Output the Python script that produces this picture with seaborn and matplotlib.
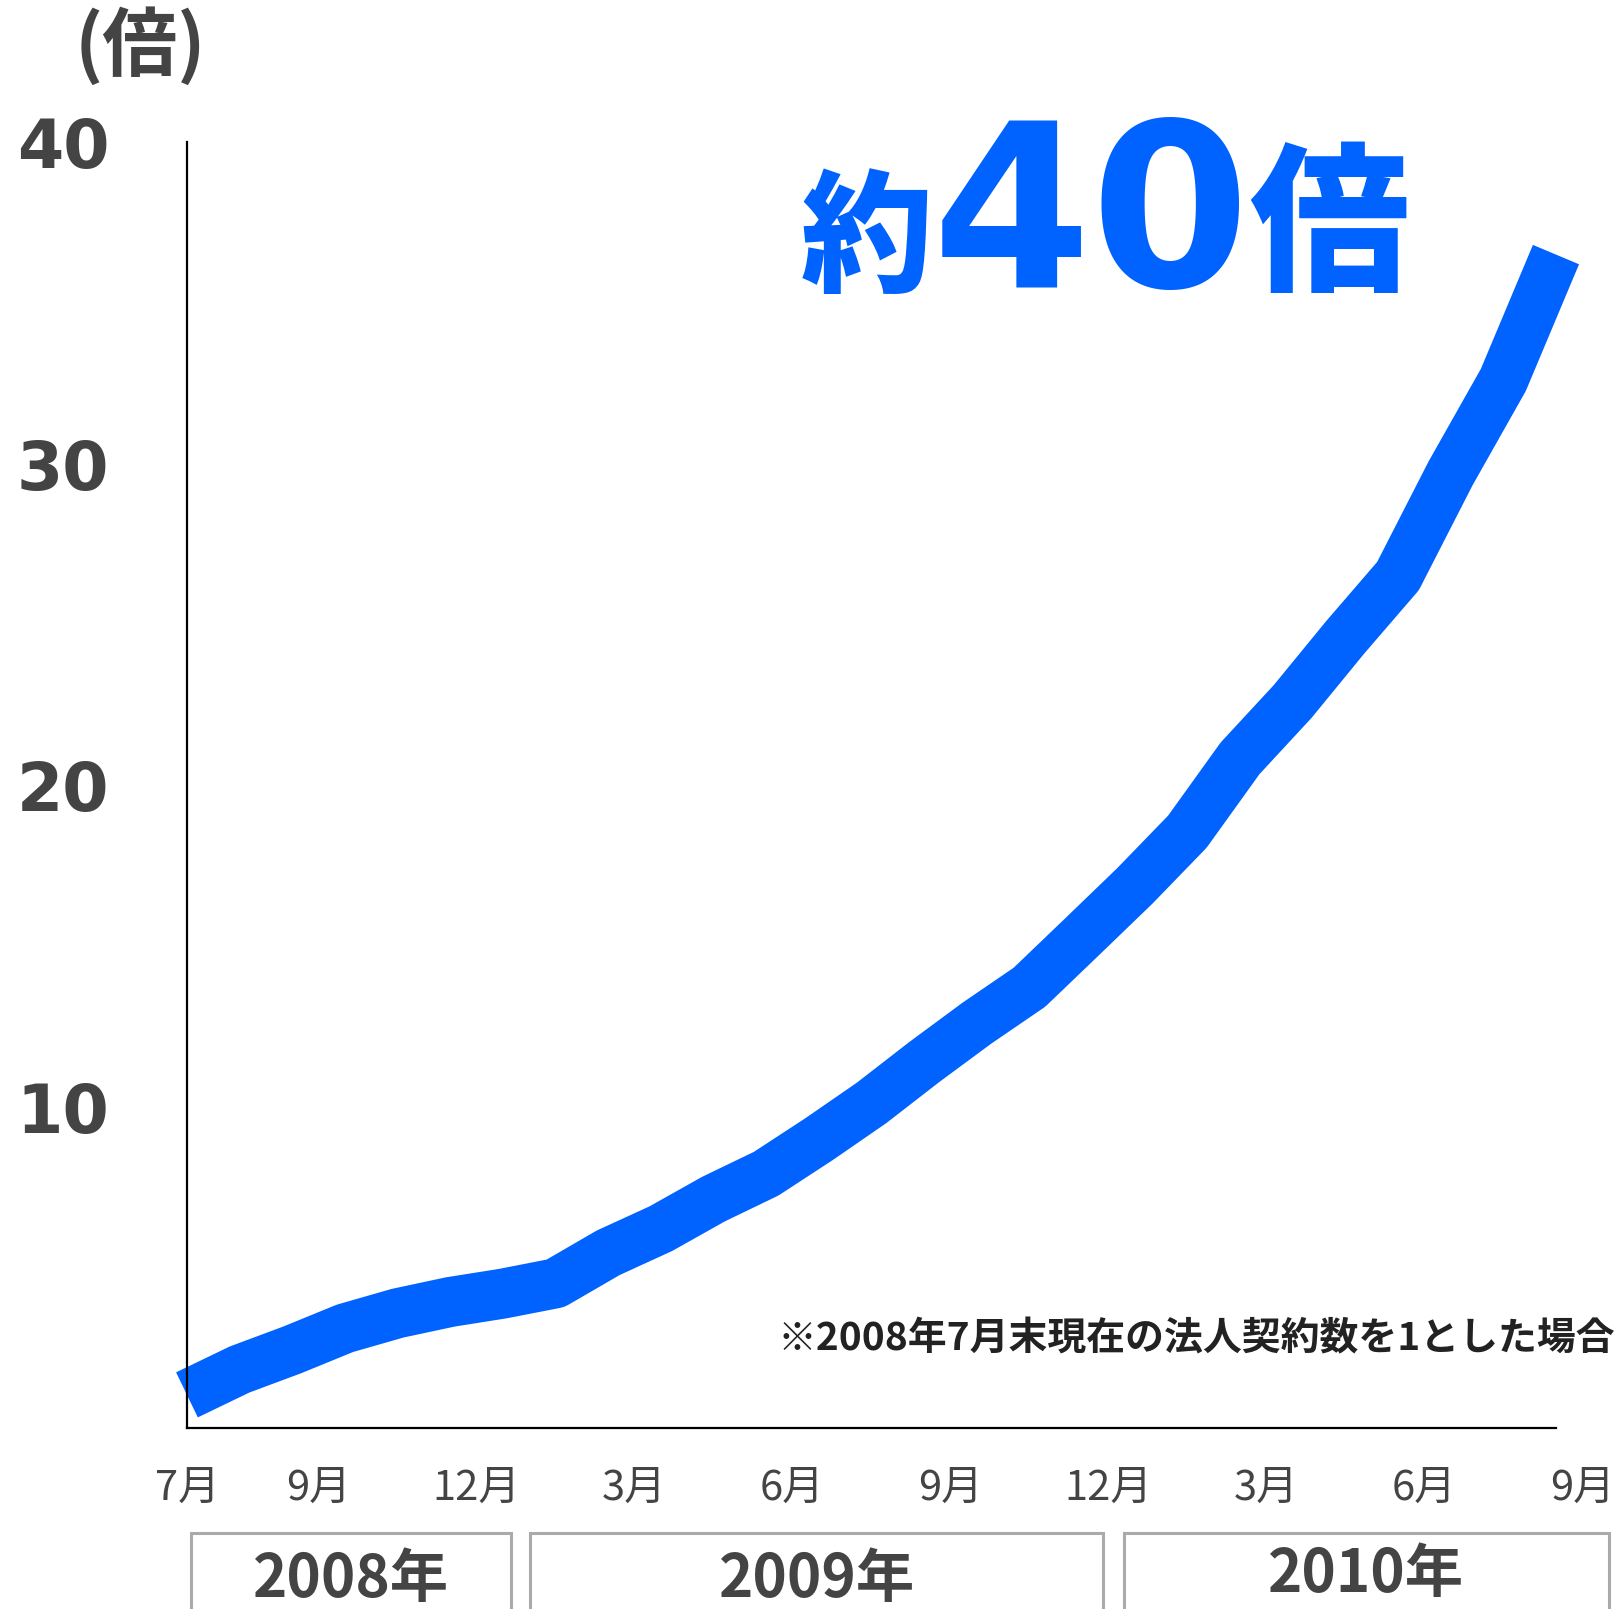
import matplotlib
matplotlib.use("Agg")
import matplotlib.pyplot as plt
import matplotlib.transforms as mtransforms
from matplotlib.patches import Rectangle
import seaborn as sns

# months since end of July 2008, and the ratio vs July 2008
months = [0, 1, 2, 3, 4, 5, 6, 7, 8, 9, 10, 11, 12, 13,
          14, 15, 16, 17, 18, 19, 20, 21, 22, 23, 24, 25, 26]
ratio = [1.03, 1.82, 2.43, 3.1, 3.57, 3.92, 4.18, 4.5, 5.45, 6.2, 7.12, 7.91, 8.98, 10.11,
         11.38, 12.59, 13.71, 15.28, 16.86, 18.55, 20.83, 22.6, 24.6, 26.5, 29.7, 32.6, 36.5]

month_labels = ["7月", "9月", "12月", "3月", "6月", "9月", "12月", "3月", "6月", "9月"]
month_label_pos = [0, 2.5, 5.5, 8.5, 11.5, 14.5, 17.5, 20.5, 23.5, 26.5]

year_labels = ["2008年", "2009年", "2010年"]
year_spans = [(0.08, 6.15), (6.52, 17.4), (17.8, 27.0)]
year_label_y = [0.0178, 0.0178, 0.021]

y_ticks = [10, 20, 30, 40]

BLUE = "#0062ff"
GRAY = "#444444"

sns.set_style("white")
plt.rcParams["font.family"] = ["Noto Sans CJK JP", "DejaVu Sans"]

fig = plt.figure(figsize=(16.23, 16.09), dpi=100)
ax = fig.add_axes([0.1152, 0.1125, 0.8435, 0.7992])

sns.lineplot(x=months, y=ratio, ax=ax, color=BLUE, linewidth=36)
line = ax.lines[0]
line.set_solid_capstyle("butt")
line.set_solid_joinstyle("round")
line.set_clip_on(False)

ax.set_xlim(0, 26)
ax.set_ylim(0, 40)
for side in ["top", "right"]:
    ax.spines[side].set_visible(False)
for side in ["left", "bottom"]:
    ax.spines[side].set_color("black")
    ax.spines[side].set_linewidth(1.6)

ax.set_xticks([])
ax.set_yticks(y_ticks)
ax.set_yticklabels([str(t) for t in y_ticks])
ax.tick_params(axis="y", length=0, pad=56, labelcolor=GRAY)
for lab in ax.get_yticklabels():
    lab.set_fontfamily(["DejaVu Sans"])
    lab.set_fontweight("bold")
    lab.set_fontsize(48)
ax.set_xlabel("")
ax.set_ylabel("")

trans = mtransforms.blended_transform_factory(ax.transData, fig.transFigure)
for pos, lab in zip(month_label_pos, month_labels):
    ax.text(pos, 0.075, lab, transform=trans, ha="center", va="center",
            fontsize=30, color=GRAY, clip_on=False)

for (x0, x1), lab, ly in zip(year_spans, year_labels, year_label_y):
    ax.add_patch(Rectangle((x0, -0.05), x1 - x0, 0.097, transform=trans,
                           fill=False, edgecolor="#aaaaaa", linewidth=2.2,
                           clip_on=False))
    ax.text((x0 + x1) / 2, ly, lab, transform=trans, ha="center", va="center",
            fontsize=42, color=GRAY, fontweight="bold", clip_on=False)

fig.text(0.0863, 0.9708, "(倍)", ha="center", va="center", fontsize=54,
         color=GRAY, fontweight="bold")

fig.text(0.5342, 0.8499, "約", ha="center", va="center", fontsize=95,
         color=BLUE, fontweight="heavy")
fig.text(0.6722, 0.8608, "40", ha="center", va="center", fontsize=165,
         color=BLUE, fontweight="heavy", family=["DejaVu Sans"])
fig.text(0.8189, 0.8565, "倍", ha="center", va="center", fontsize=115,
         color=BLUE, fontweight="heavy")

fig.text(0.995, 0.1678, "※2008年7月末現在の法人契約数を1とした場合", ha="right",
         va="center", fontsize=28, color="#222222", fontweight="bold")

fig.savefig("out.png", dpi=100)
